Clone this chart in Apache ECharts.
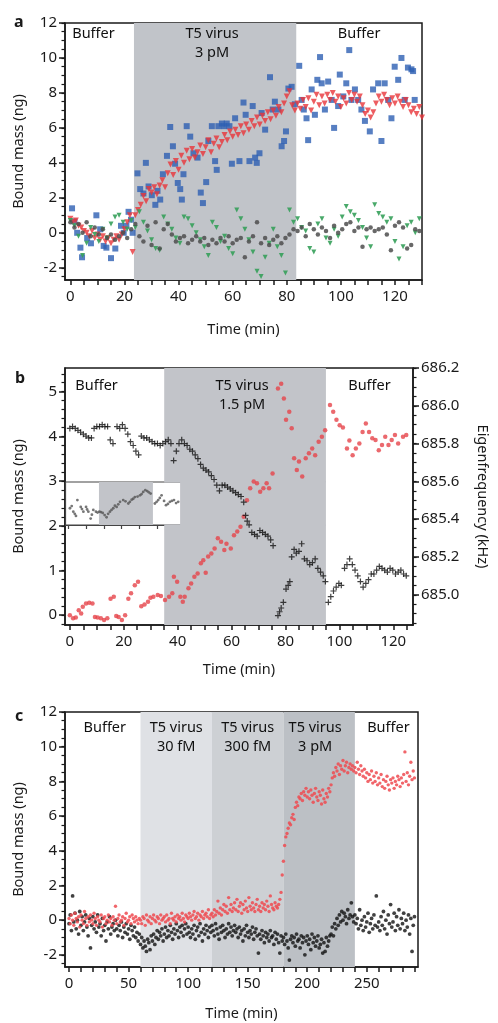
<!DOCTYPE html>
<html>
<head>
<meta charset="utf-8">
<title>T5 virus binding</title>
<script src="https://cdn.jsdelivr.net/npm/echarts@6.0.0/dist/echarts.min.js"></script>
<style>
html, body {margin:0; padding:0; background:#fff;}
#wrap {position:relative; width:498px; height:1023px;}
#chart {width:498px; height:1023px;}
.letter {position:absolute; font:bold 16px "Noto Sans"; line-height:16px; color:#1a1a1a;}
</style>
</head>
<body>
<div id="wrap">
<div id="chart"></div>
<div class="letter" style="left:14px; top:13px;">a</div>
<div class="letter" style="left:15px; top:369px;">b</div>
<div class="letter" style="left:15px; top:707px;">c</div>
</div>
<script>
// ---- panel a : bound mass, T5 virus 3 pM ----
var aBlue = [[0.6,1.4],[1.5,0.65],[2.5,0],[3.7,-0.85],[4.3,-1.4],[6.2,-0.3],[7.6,-0.6],[9.6,1.0],[11,0.2],[12.3,-0.75],[13.3,-0.85],[15,-1.45],[16.6,-0.9],[18.7,0.4],[19.7,0],[20.7,0.4],[21.5,1.2],[22.4,0.75],[23,0],
  [24.8,3.4],[25.8,2.5],[27,2.25],[27.9,4.0],[28.9,2.65],[30.1,2.15],[31.4,1.6],[32.2,2.4],[33.2,1.9],[34.2,3.35],[35.7,4.4],[36.9,6.05],[37.9,4.95],[38.7,3.95],[39.7,2.85],[40.6,2.5],[41.2,1.9],[41.8,3.35],[43,6.1],[44.3,5.5],[45.5,4.55],[47,4.3],[48.2,2.3],[49,1.7],[50.2,2.9],[51,5.25],[52.3,6.1],[53.5,4.1],[54.1,3.6],[54.7,6.1],[56,6.25],[56.8,6.1],[57.8,6.25],[58.8,6.1],[59.7,3.95],[60.9,6.55],[62.5,4.1],[64,7.45],[64.8,6.75],[66.2,4.1],[67.4,7.25],[68.3,4.3],[68.9,4.0],[69.9,4.55],[70.7,6.85],[72,5.9],[73.8,8.9],[74.8,7.05],[75.6,7.5],[76.9,7.05],[78.1,4.95],[79,5.25],[79.7,5.8],[80.6,8.25],[81.8,8.35],[83,7.35],
  [84.6,9.55],[85.5,7.6],[86.3,7.05],[87.3,6.55],[87.9,5.3],[89.2,8.2],[90.4,6.75],[91.3,8.75],[92.3,10.05],[92.9,8.55],[94.1,7.05],[95.3,8.65],[96.6,7.6],[97.5,6.0],[99,7.25],[99.6,9.05],[100.9,7.8],[102,8.55],[103.1,10.45],[103.9,7.6],[105.2,8.2],[106.4,7.6],[107.6,7.05],[108.9,6.4],[110.7,5.8],[111.9,8.2],[113.8,8.55],[115,5.25],[116.2,8.55],[117.5,7.6],[118.7,6.55],[119.9,9.5],[121.2,8.75],[122.4,10.0],[123.6,7.6],[124.8,9.45],[126.1,9.35],[126.7,9.25],[127.3,7.6]];

// red: one reading per minute from t = 0
var aRedStep = 1;
var aRed = [0.8,0.6,0.7,0.4,0.3,0.1,0.0,-0.2,0.1,-0.3,-0.1,-0.4,-0.2,-0.5,-0.3,-0.6,-0.4,-0.2,-0.4,-0.1,
  0.2,0.6,1.0,-1.1,1.0,1.3,1.6,2.1,1.8,2.5,2.3,2.6,2.2,2.7,3.0,2.6,3.4,3.9,3.3,4.1,
  3.6,4.4,4.0,4.7,4.2,4.8,4.3,4.6,5.0,4.5,4.9,5.3,4.6,5.1,5.4,4.9,5.2,5.6,5.3,5.8,
  5.5,5.9,5.6,6.1,5.7,6.2,5.9,6.4,6.1,6.6,6.2,6.7,6.4,6.9,6.5,7.0,6.7,7.2,6.9,7.4,
  7.8,8.1,7.3,7.0,7.4,7.1,7.6,7.2,7.7,7.0,7.5,7.9,7.3,7.8,7.4,7.9,7.6,8.0,7.5,7.8,
  7.2,7.7,7.4,8.0,7.6,7.9,7.5,7.8,7.3,6.8,7.0,6.6,6.9,7.4,7.8,7.5,7.9,7.6,7.3,7.7,
  7.4,7.8,7.5,7.2,7.6,7.3,6.9,7.1,6.8,7.2,6.6];

// green and grey: one reading every 1.5 min from t = 0
var aCtrlStep = 1.5;
var aGreen = [0.7,0.4,-0.2,-1.3,-0.6,0.3,-0.1,-0.5,0.2,-0.3,0.5,0.9,1.0,0.6,0.2,0.7,0.3,1.2,0.6,0.1,
  -0.4,-0.9,-1.0,0.9,0.5,0.2,-0.3,-0.6,0.9,0.8,0.4,0.0,-0.4,-0.8,-1.3,0.6,0.3,-0.5,-0.2,-0.9,
  -1.2,1.3,0.8,0.2,-0.4,-1.1,-2.2,-2.5,-1.4,-0.6,0.2,-0.8,-1.3,-2.3,1.3,0.6,0.8,0.3,0.1,-0.9,
  -1.1,0.5,0.8,-0.3,-0.6,0.2,-0.2,0.9,1.5,1.2,1.0,0.7,0.3,-0.3,-0.8,1.6,1.1,0.9,0.6,0.8,
  -0.5,-1.5,-0.8,0.4,0.6,0.0,0.8];
var aGrey = [0.6,0.3,0.5,0.0,0.6,-0.2,0.3,-0.1,0.2,-0.3,-0.1,-0.4,-0.2,0.0,-0.3,0.2,0.5,-0.2,-0.5,0.4,
  -0.7,0.6,-0.9,0.2,0.5,-0.1,-0.5,-0.3,-0.2,-0.6,-0.4,-0.2,-0.5,-0.3,-0.7,-0.4,-0.6,-0.3,-0.5,-0.2,
  -0.6,-0.4,-0.3,-1.4,-0.5,-0.2,0.6,-0.6,-0.3,-0.7,-0.4,-0.2,-0.6,-0.3,-0.1,0.2,0.1,0.3,-0.2,0.5,
  0.2,-0.1,0.3,0.1,-0.3,0.4,0.0,0.2,0.5,0.6,0.1,0.3,-0.8,0.2,0.3,0.1,0.2,0.3,-0.1,-1.0,
  0.4,0.6,0.3,-0.9,-0.7,0.2,0.1];

// ---- panel b : bound mass (red, left) and eigenfrequency (black, right), 1.5 pM ----
var bMass = [[0,0],[1.2,-0.07],[2.2,-0.05],[3.3,0.11],[4.2,0.04],[4.8,0.19],[6,0.26],[7.2,0.28],[8.4,0.26],[9.3,-0.04],[10.3,-0.05],[11.5,-0.07],[12.7,-0.11],[13.9,-0.07],[15.1,0.37],[16.3,0.41],[17.2,-0.02],[18.1,-0.04],[19.3,-0.11],[20.5,0],
  [21.7,0.37],[22.7,0.49],[24.1,0.67],[25.3,0.75],[26.5,0.2],[27.7,0.24],[29,0.3],[29.9,0.39],[31,0.41],[32.6,0.45],[33.8,0.43],[35.3,0.34],[36.8,0.41],[38,0.49],[38.6,0.86],[39.8,0.75],[41,0.41],[41.9,0.3],[42.6,0.41],[44,0.6],
  [45,0.71],[46.2,0.86],[47.4,0.93],[48.6,1.16],[49.5,1.23],[50.4,0.95],[51.3,1.31],[52.5,1.38],[53.7,1.49],[54.9,1.72],[56.1,1.64],[57.3,1.46],[58.1,1.6],[59.7,1.49],[60.9,1.79],[62.1,1.87],[63.3,1.98],[64.5,2.2],[65.7,2.57],[66.9,2.84],
  [68.2,2.99],[69.4,2.95],[70.6,2.76],[71.8,2.84],[73,2.95],[73.9,2.84],[75.2,3.17],[77.2,5.07],[78.4,5.18],[79.4,4.85],[80.2,4.37],[81.4,4.55],[82.3,4.18],[83.2,3.51],[84.2,3.25],[85,3.44],[86.2,3.1],[87.5,3.51],[88.7,3.62],[89.9,3.73],
  [91,3.58],[92.3,3.88],[93.5,3.99],[94.7,4.14],[96.5,4.7],[97.7,4.55],[98.9,4.37],[100.1,4.25],[101.3,4.2],[102.8,3.73],[103.7,3.91],[104.9,3.58],[106.1,3.73],[107.4,3.84],[108.6,4.1],[109.8,4.29],[111,4.1],[112.2,3.96],[113.4,3.92],[114.6,3.69],
  [115.8,3.81],[117,3.99],[118.2,3.81],[119.4,3.92],[120.6,4.03],[121.8,3.84],[123.6,3.99],[124.8,4.03]];
var bFreq = [[0,685.88],[1,685.89],[2,685.88],[3,685.87],[4,685.86],[5,685.85],[6,685.84],[7,685.83],[8,685.83],
  [9,685.88],[10,685.89],[11,685.89],[12,685.90],[13,685.89],[14,685.89],[15,685.82],[16,685.80],
  [17.5,685.89],[18.5,685.88],[19.5,685.90],[20.5,685.88],[21.5,685.85],[22.5,685.81],[23.5,685.79],[24.5,685.76],[25.5,685.74],
  [26.5,685.84],[27.5,685.83],[28.5,685.83],[29.5,685.82],[30.5,685.81],[31.5,685.80],[32.5,685.80],[33.5,685.79],[34.5,685.80],[35.5,685.81],[36.5,685.82],[37.5,685.80],[38.5,685.71],[39.5,685.76],[40.5,685.80],
  [41.5,685.82],[42.5,685.80],[43.5,685.79],[44.5,685.77],[45.5,685.76],[46.5,685.74],[47.5,685.72],[48.5,685.69],[49.5,685.67],[50.5,685.66],[51.5,685.65],[52.5,685.63],[53.5,685.61],[54.5,685.58],[55.5,685.55],[56.5,685.58],[57.5,685.58],[58.5,685.57],[59.5,685.56],[60.5,685.55],
  [61.5,685.54],[62.5,685.53],[63.5,685.52],[64.5,685.49],[65.2,685.42],[65.8,685.39],[66.5,685.37],[67.5,685.33],[68.5,685.32],[69.5,685.31],[70.5,685.34],[71.5,685.33],[72.5,685.32],[73.5,685.31],[74.5,685.29],[75.4,685.26],
  [77.2,684.89],[77.8,684.91],[78.4,684.93],[79.2,684.96],[80.2,685.03],[81,685.05],[81.6,685.07],
  [82.3,685.20],[83.2,685.24],[84,685.22],[85,685.23],[86,685.27],[87,685.19],[88,685.18],[89,685.16],[90,685.17],[91,685.19],[92,685.14],[93,685.12],[94,685.10],[94.8,685.07],
  [95.9,684.96],[96.8,684.99],[97.8,685.02],[98.8,685.04],[99.8,685.06],[100.7,685.05],
  [101.9,685.14],[102.8,685.16],[103.8,685.19],[104.8,685.16],[105.8,685.13],[106.8,685.10],[107.8,685.07],[108.8,685.04],[109.8,685.06],[110.8,685.08],[111.8,685.11],[112.8,685.11],[113.8,685.13],[114.8,685.15],
  [115.8,685.14],[116.8,685.13],[117.8,685.12],[118.8,685.14],[119.8,685.13],[120.8,685.11],[121.8,685.12],[122.8,685.13],[123.8,685.11],[124.8,685.10]];
// inset (arbitrary units)
var bInset = [[2.8,3.9],[4.7,3.1],[6.2,2.1],[7,5.8],[8.9,4.2],[10.4,3.1],[11.9,4.2],[13.2,3.1],[14.5,1.5],[16,3.5],[17.5,3.1],[19.4,3.1],[21.3,2.8],[23.5,1.8],[25.4,3.1],[27.3,3.9],[29.2,4.2],[31.1,5.4],[32.9,5.8],[35.8,5],
  [37.7,5.9],[39.5,6.5],[42.4,6.9],[44.2,7.7],[46.5,7.9],[48.4,7.3],[50.8,5],[52.7,5.8],[54.6,6.9],[57.1,4.6],[59.3,5.4],[61.6,5.8],[64,5.4],
  [3.8,4.4],[5.5,2.6],[9.6,3.7],[12.5,3.6],[15.2,2.4],[18.4,2.9],[20.3,3.0],[22.4,2.3],[24.4,2.6],[26.3,3.5],[28.2,4.5],[30.1,4.8],[34.2,5.5],[36.7,5.4],[38.6,6.1],[41,6.6],[43.3,7.2],[45.4,8.1],[47.4,7.6],[51.8,5.4],[53.6,6.3],[56,5.6],[58.2,4.9],[60.4,5.6],[62.8,5.1]];

// ---- panel c : stepwise concentrations ----
var cStep = 1;   // one reading per minute from t = 0
var cRed = [0.1,-0.2,0.3,0.0,-0.3,0.4,0.1,-0.1,0.2,-0.4,0.3,0.0,-0.2,0.5,0.1,-0.3,0.2,-0.1,0.3,0.0,
  -0.2,0.4,0.1,-0.3,0.2,0.0,-0.1,0.3,-0.4,0.1,0.2,-0.2,0.0,0.3,-0.1,0.1,-0.3,0.2,0.0,0.8,
  -0.2,0.1,0.3,-0.1,0.0,0.2,-0.3,0.1,0.4,-0.1,0.0,0.2,-0.2,0.3,0.1,-0.1,0.2,0.0,-0.2,0.1,
  0.0,-0.2,0.2,0.1,-0.3,0.3,0.0,-0.1,0.2,-0.2,0.1,0.3,0.0,-0.1,0.2,0.1,-0.2,0.3,0.0,0.1,
  0.2,-0.1,0.3,0.0,0.1,-0.2,0.4,0.1,0.0,0.2,-0.1,0.3,0.1,0.2,0.0,0.4,0.1,-0.1,0.3,0.2,
  0.1,0.4,0.2,0.0,0.3,0.5,0.1,0.2,0.4,0.0,0.3,0.2,0.5,0.1,0.3,0.4,0.2,0.6,0.1,0.3,
  0.4,0.2,0.6,0.3,0.5,1.1,0.4,0.7,0.3,0.6,0.9,0.5,0.8,0.4,1.3,0.6,0.9,0.5,0.7,1.0,
  0.6,1.2,0.5,0.8,1.0,0.4,0.9,0.6,1.1,0.7,0.5,1.3,0.8,0.6,1.0,0.7,0.5,0.9,1.2,0.6,
  0.8,0.5,1.0,0.7,0.9,0.6,1.1,0.8,0.5,1.4,0.9,0.7,0.6,1.0,0.8,0.7,0.9,1.2,1.6,2.6,
  3.4,4.3,4.8,5.0,5.3,5.6,5.5,5.9,6.1,5.8,6.5,6.8,6.6,7.1,7.0,7.3,6.9,7.4,7.2,7.6,
  7.1,7.4,7.0,7.5,7.2,6.8,7.3,7.6,7.1,6.9,7.4,7.2,6.7,7.5,7.0,6.8,7.3,7.1,7.6,7.4,
  7.8,8.2,8.5,8.3,8.8,8.6,9.0,8.4,8.9,8.7,9.2,8.6,8.9,9.1,8.5,8.8,9.0,8.7,8.9,8.6,
  8.8,8.5,9.1,8.7,8.4,8.9,8.6,8.3,8.7,8.2,8.5,8.0,8.4,8.1,8.6,7.9,8.3,8.0,8.5,7.8,
  8.2,7.9,8.4,7.7,8.1,7.6,8.0,8.3,7.8,7.5,8.1,7.9,8.2,7.6,8.0,7.8,8.3,8.1,7.7,8.2,
  7.9,8.4,9.7,8.0,8.5,7.8,8.3,9.1,8.1,8.6,8.2];
var cBlack = [-0.2,0.3,-0.6,1.4,-0.1,0.4,-0.5,0.0,-0.8,0.5,-0.3,0.2,-0.6,-0.1,0.3,-0.4,-0.9,0.1,-1.6,-0.3,
  0.2,-0.5,-0.1,-0.7,0.3,-0.4,-0.2,-0.9,0.1,-0.6,-0.3,-1.2,-0.1,-0.5,0.2,-0.8,-0.4,-0.2,-0.6,0.0,
  -0.5,-0.9,-0.3,-0.6,-0.1,-1.0,-0.4,-0.7,-0.2,-0.8,-0.5,-1.1,-0.3,-0.6,-0.9,-0.4,-1.0,-0.7,-1.2,-0.8,
  -1.4,-1.0,-1.6,-1.2,-1.5,-1.8,-1.1,-1.3,-1.7,-0.9,-1.2,-0.8,-1.4,-1.0,-0.6,-1.1,-0.7,-0.9,-0.5,-1.2,
  -0.8,-0.4,-1.0,-0.6,-0.9,-0.3,-0.7,-1.1,-0.5,-0.8,-0.2,-0.6,-1.0,-0.4,-0.7,-0.3,-0.9,-0.5,-0.2,-0.8,
  -0.4,-0.7,-1.0,-0.5,-0.8,-0.3,-1.1,-0.6,-0.4,-0.9,-0.2,-0.7,-1.2,-0.5,-0.8,-0.3,-0.6,-1.0,-0.4,-0.7,
  -0.3,-0.6,-0.9,-0.2,-0.5,-0.8,-1.1,-0.4,-0.7,-0.3,-0.6,-1.0,-0.5,-0.8,-0.2,-0.7,-0.4,-0.9,-0.6,-0.3,
  -0.7,-0.5,-1.0,-0.4,-0.8,-0.6,-1.2,-0.5,-0.9,-0.3,-0.7,-1.0,-0.6,-0.8,-0.4,-1.1,-0.7,-0.5,-0.9,-1.9,
  -0.8,-1.1,-0.6,-0.9,-1.3,-0.7,-1.0,-0.8,-1.2,-0.6,-1.0,-0.9,-1.4,-0.7,-1.1,-0.8,-1.3,-1.9,-0.9,-1.2,
  -1.0,-1.4,-0.8,-1.2,-1.6,-2.3,-1.1,-0.9,-1.3,-1.0,-1.5,-0.8,-1.2,-1.1,-1.6,-0.9,-1.3,-1.0,-2.0,-1.2,
  -0.9,-1.4,-1.1,-1.7,-0.8,-1.3,-1.0,-1.5,-1.2,-0.9,-1.6,-1.4,-1.1,-1.9,-1.3,-1.8,-1.0,-1.5,-1.2,-0.9,
  -0.8,-0.4,-0.9,-0.2,-0.5,0.1,-0.3,0.3,-0.1,0.5,0.0,0.4,0.2,-0.2,0.6,0.1,0.3,1.0,0.2,-0.1,
  0.3,-0.2,0.1,-0.5,0.6,-0.3,0.0,-0.6,0.2,-0.4,-0.1,0.4,-0.7,-0.2,0.1,-0.5,0.3,-0.3,1.4,-0.4,
  -0.1,-0.6,0.2,-0.3,0.5,-0.5,0.0,-0.8,0.3,-0.2,0.9,-0.4,-0.1,0.4,-0.6,0.2,-0.3,0.6,-0.5,0.1,
  -0.2,0.4,-0.6,0.0,-0.4,0.3,-0.8,0.1,-1.8,-0.3,0.2];

// tick labels
var massLabels = [-2,0,2,4,6,8,10,12];
var aTimeLabels = [0,20,40,60,80,100,120];
var bMassLabels = [0,1,2,3,4,5];
var bFreqLabels = [685.0,685.2,685.4,685.6,685.8,686.0,686.2];
var cTimeLabels = [0,50,100,150,200,250];
var insetTicks = [2,12,22,32,42,52,62];

function sampled(dt, vals) {
    return vals.map(function (v, i) { return [Math.round(i * dt * 100) / 100, v]; });
}
function steps(a, b, s) {
    var out = [];
    for (var v = a; v <= b + 1e-9; v += s) out.push(Math.round(v * 1000) / 1000);
    return out;
}

var font = 'Noto Sans';
var ink = '#1a1a1a';

function xAxisOf(grid, min, max, ticks, labels, gap) {
    return {
        type: 'value', gridIndex: grid, min: min, max: max,
        name: 'Time (min)', nameLocation: 'middle', nameGap: gap,
        nameTextStyle: {color: ink, fontSize: 14.5, fontFamily: font},
        axisLine: {show: true, onZero: false, lineStyle: {color: ink, width: 1.5}},
        axisTick: {show: true, length: 5, customValues: ticks, lineStyle: {color: ink, width: 1.5}},
        axisLabel: {customValues: labels, margin: 9, color: ink, fontSize: 15, fontFamily: font},
        splitLine: {show: false}
    };
}
function yAxisOf(grid, min, max, labels, name, gap, pos, fmt, rot) {
    return {
        type: 'value', gridIndex: grid, min: min, max: max, position: pos || 'left',
        name: name, nameLocation: 'middle', nameGap: gap, nameRotate: rot,
        nameTextStyle: {color: ink, fontSize: 14.5, fontFamily: font},
        axisLine: {show: true, onZero: false, lineStyle: {color: ink, width: 1.5}},
        axisTick: {show: true, length: 6, customValues: labels, lineStyle: {color: ink, width: 1.5}},
        axisLabel: {customValues: labels, margin: 8, color: ink, fontSize: 15, fontFamily: font, formatter: fmt},
        splitLine: {show: false}
    };
}
function minorAxis(grid, min, max, ticks, pos) {
    return {
        type: 'value', gridIndex: grid, min: min, max: max, position: pos || 'left',
        axisLine: {show: false, onZero: false},
        axisTick: {show: true, length: 3.5, customValues: ticks, lineStyle: {color: ink, width: 1.2}},
        axisLabel: {show: false},
        splitLine: {show: false}
    };
}
function band(x1, x2, color, text, dx) {
    return [{xAxis: x1, name: text, itemStyle: {color: color}, label: {offset: [dx || 0, 0]}}, {xAxis: x2}];
}
function bands(xi, yi, data, dist) {
    return {
        type: 'scatter', xAxisIndex: xi, yAxisIndex: yi, data: [], z: 1, silent: true,
        markArea: {
            silent: true,
            label: {show: true, position: 'insideTop', distance: dist, color: '#111', fontSize: 14.5,
                    lineHeight: 19, fontFamily: font},
            data: data
        }
    };
}
var clear = 'rgba(255,255,255,0)';
var shadeB = '#c2c4c9';
var plus = 'path://M0,4L10,4L10,6L0,6ZM4,0L6,0L6,10L4,10Z';

var dom = document.getElementById('chart');
var myChart = echarts.init(dom);
var option = {
    backgroundColor: '#fff',
    animation: false,
    grid: [
        {left: 65, top: 23, width: 357, height: 257, show: true, borderColor: ink, borderWidth: 1.5},
        {left: 65, top: 368, width: 357, height: 257, show: true, borderColor: ink, borderWidth: 1.5},
        {left: 65, top: 482, width: 118, height: 43, show: true, borderColor: '#444', borderWidth: 1.2},
        {left: 65, top: 712, width: 353, height: 255, show: true, borderColor: ink, borderWidth: 1.5}
    ],
    xAxis: [
        xAxisOf(0, -2, 130, steps(0, 130, 5), aTimeLabels, 42),
        xAxisOf(1, -1.8, 127.3, steps(0, 125, 5), aTimeLabels, 37),
        {type: 'value', gridIndex: 2, min: 0, max: 66.7,
         axisLine: {show: true, onZero: false, lineStyle: {color: '#444', width: 1.2}},
         axisLabel: {show: false}, splitLine: {show: false},
         axisTick: {show: true, length: 4, customValues: insetTicks, lineStyle: {color: '#444', width: 1.2}}},
        xAxisOf(3, -3.4, 293, steps(0, 290, 10), cTimeLabels, 39)
    ],
    yAxis: [
        yAxisOf(0, -2.7, 12, massLabels, 'Bound mass (ng)', 39),
        minorAxis(0, -2.7, 12, steps(-2.5, 12, 0.5)),
        yAxisOf(1, -0.22, 5.53, bMassLabels, 'Bound mass (ng)', 39),
        minorAxis(1, -0.22, 5.53, steps(-0.2, 5.4, 0.2)),
        yAxisOf(1, 684.84, 686.2, bFreqLabels, 'Eigenfrequency (kHz)', 62, 'right',
                function (v) { return Number(v).toFixed(1); }, -90),
        minorAxis(1, 684.84, 686.2, steps(684.85, 686.2, 0.05), 'right'),
        {type: 'value', gridIndex: 2, min: 0, max: 10,
         axisLine: {show: true, onZero: false, lineStyle: {color: '#444', width: 1.2}},
         axisTick: {show: false}, axisLabel: {show: false}, splitLine: {show: false}},
        yAxisOf(3, -2.7, 12, massLabels, 'Bound mass (ng)', 39),
        minorAxis(3, -2.7, 12, steps(-2.5, 12, 0.5))
    ],
    series: [
        // panel a
        bands(0, 0, [
            band(-2, 23.5, clear, 'Buffer', -6),
            band(23.5, 83.5, '#c1c4c9', 'T5 virus\n3 pM', -3),
            band(83.5, 130, clear, 'Buffer', 0)
        ], 1),
        {type: 'scatter', xAxisIndex: 0, yAxisIndex: 0, data: aBlue, symbol: 'rect', symbolSize: 6,
         itemStyle: {color: '#2d5fb3'}},
        {type: 'scatter', xAxisIndex: 0, yAxisIndex: 0, data: sampled(aRedStep, aRed), symbol: 'triangle',
         symbolRotate: 180, symbolSize: 6, itemStyle: {color: '#e8343a'}},
        {type: 'scatter', xAxisIndex: 0, yAxisIndex: 0, data: sampled(aCtrlStep, aGreen), symbol: 'triangle',
         symbolRotate: 180, symbolSize: 5, itemStyle: {color: '#35a05a', opacity: 0.9}},
        {type: 'scatter', xAxisIndex: 0, yAxisIndex: 0, data: sampled(aCtrlStep, aGrey), symbol: 'circle',
         symbolSize: 4.5, itemStyle: {color: '#4d4d4d', opacity: 0.85}},
        // panel b : the shaded band leaves the inset box white
        bands(1, 2, [
            band(-1.8, 35, clear, 'Buffer', -18),
            [{xAxis: 35, yAxis: 2.97, name: 'T5 virus\n1.5 pM', itemStyle: {color: shadeB}, label: {offset: [-3, 0]}},
             {xAxis: 95, yAxis: 5.53}],
            [{xAxis: 35, yAxis: -0.22, name: '', itemStyle: {color: shadeB}}, {xAxis: 95, yAxis: 2.03}],
            [{xAxis: 40.9, yAxis: 2.0, name: '', itemStyle: {color: shadeB}}, {xAxis: 95, yAxis: 3.0}],
            band(95, 127.3, clear, 'Buffer', 0)
        ], 8),
        {type: 'scatter', xAxisIndex: 1, yAxisIndex: 2, data: bMass, symbol: 'circle', symbolSize: 4.5,
         itemStyle: {color: '#e6434a'}},
        {type: 'scatter', xAxisIndex: 1, yAxisIndex: 4, data: bFreq, symbol: plus, symbolSize: 6,
         itemStyle: {color: '#111'}},
        // inset
        {type: 'scatter', xAxisIndex: 2, yAxisIndex: 6, data: [], z: 1, silent: true,
         markArea: {silent: true, data: [[{xAxis: 19.2, itemStyle: {color: shadeB}}, {xAxis: 49.7}]]}},
        {type: 'scatter', xAxisIndex: 2, yAxisIndex: 6, data: bInset, symbol: 'circle',
         symbolSize: 2.8, itemStyle: {color: '#555'}},
        // panel c
        bands(3, 7, [
            band(-3.4, 60, clear, 'Buffer', 2),
            band(60, 120, '#dfe1e5', 'T5 virus\n30 fM', 0),
            band(120, 180, '#cdd0d4', 'T5 virus\n300 fM', 0),
            band(180, 240, '#bcc0c5', 'T5 virus\n3 pM', -4),
            band(240, 293, clear, 'Buffer', 2)
        ], 6),
        {type: 'scatter', xAxisIndex: 3, yAxisIndex: 7, data: sampled(cStep, cBlack), symbol: 'circle',
         symbolSize: 3.8, itemStyle: {color: '#111'}},
        {type: 'scatter', xAxisIndex: 3, yAxisIndex: 7, data: sampled(cStep, cRed), symbol: 'circle',
         symbolSize: 3.4, itemStyle: {color: '#ef4a50', opacity: 0.85}}
    ]
};

if (option && typeof option === "object") {
    myChart.setOption(option, true);
}
</script>
</body>
</html>
